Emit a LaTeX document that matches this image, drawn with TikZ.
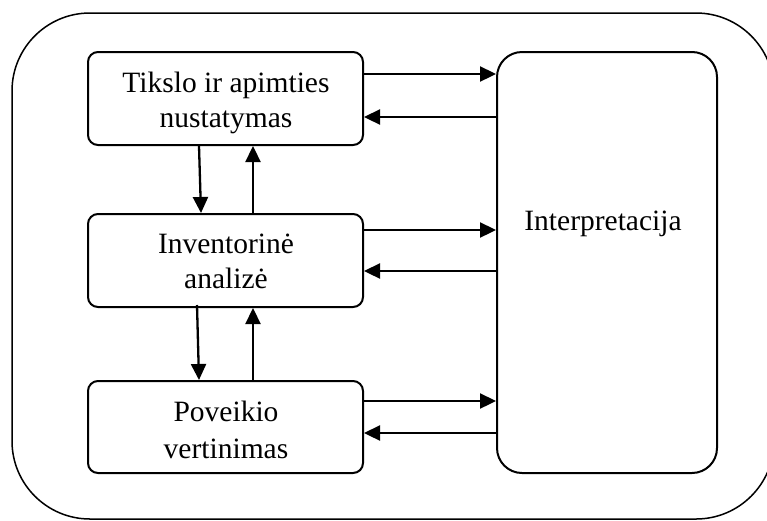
\documentclass[tikz,border=0pt]{standalone}
\usepackage{fontspec}
\setmainfont{Liberation Serif}
\usetikzlibrary{arrows.meta}
\begin{document}
\begin{tikzpicture}[x=1pt,y=-1pt,
  stepbox/.style={draw,line width=2pt,rounded corners=10pt,minimum width=275pt,minimum height=93pt,inner sep=0pt},
  bigbox/.style={draw,line width=2pt,rounded corners=25pt,minimum width=220pt,minimum height=421pt,inner sep=0pt},
  lbl/.style={font=\fontsize{29.5}{35}\selectfont,inner sep=0pt,align=center},
  arr/.style={line width=2.3pt,-{Triangle[length=16pt,width=15pt]}}]
\clip (0,0) rectangle (767,520);
\draw[line width=1.5pt,rounded corners=78pt] (12,13) rectangle (774,519);
\node[stepbox] (top) at (225.5,98.5) {};
\node[stepbox] (mid) at (225.5,260.5) {};
\node[stepbox,minimum height=92pt] (bot) at (225.5,427) {};
\node[bigbox] (interp) at (607,262.5) {};
\node[lbl] (toplbl) at (226,102.5) {Tikslo ir apimties\\nustatymas};
\node[lbl] (midlbl) at (226,261.5) {Inventorinė\\analizė};
\node[lbl] (botlbl) at (226,429.5) {Poveikio\\[2pt]vertinimas};
\node[lbl,anchor=base] (interplbl) at (603,230) {Interpretacija};
% horizontal arrows
\draw[arr] (top.east |- 0,74) -- (interp.west |- 0,74);
\draw[arr] (interp.west |- 0,117) -- (top.east |- 0,117);
\draw[arr] (mid.east |- 0,230) -- (interp.west |- 0,230);
\draw[arr] (interp.west |- 0,271) -- (mid.east |- 0,271);
\draw[arr] (bot.east |- 0,401) -- (interp.west |- 0,401);
\draw[arr] (interp.west |- 0,433) -- (bot.east |- 0,433);
% vertical arrows
\draw[arr] (top.south -| 199,0) -- (mid.north -| 201,0);
\draw[arr] (mid.north -| 253,0) -- (top.south -| 253,0);
\draw[arr] ([yshift=3pt]mid.south -| 197,0) -- (bot.north -| 199,0);
\draw[arr] (bot.north -| 253,0) -- (mid.south -| 253,0);
\end{tikzpicture}
\end{document}
